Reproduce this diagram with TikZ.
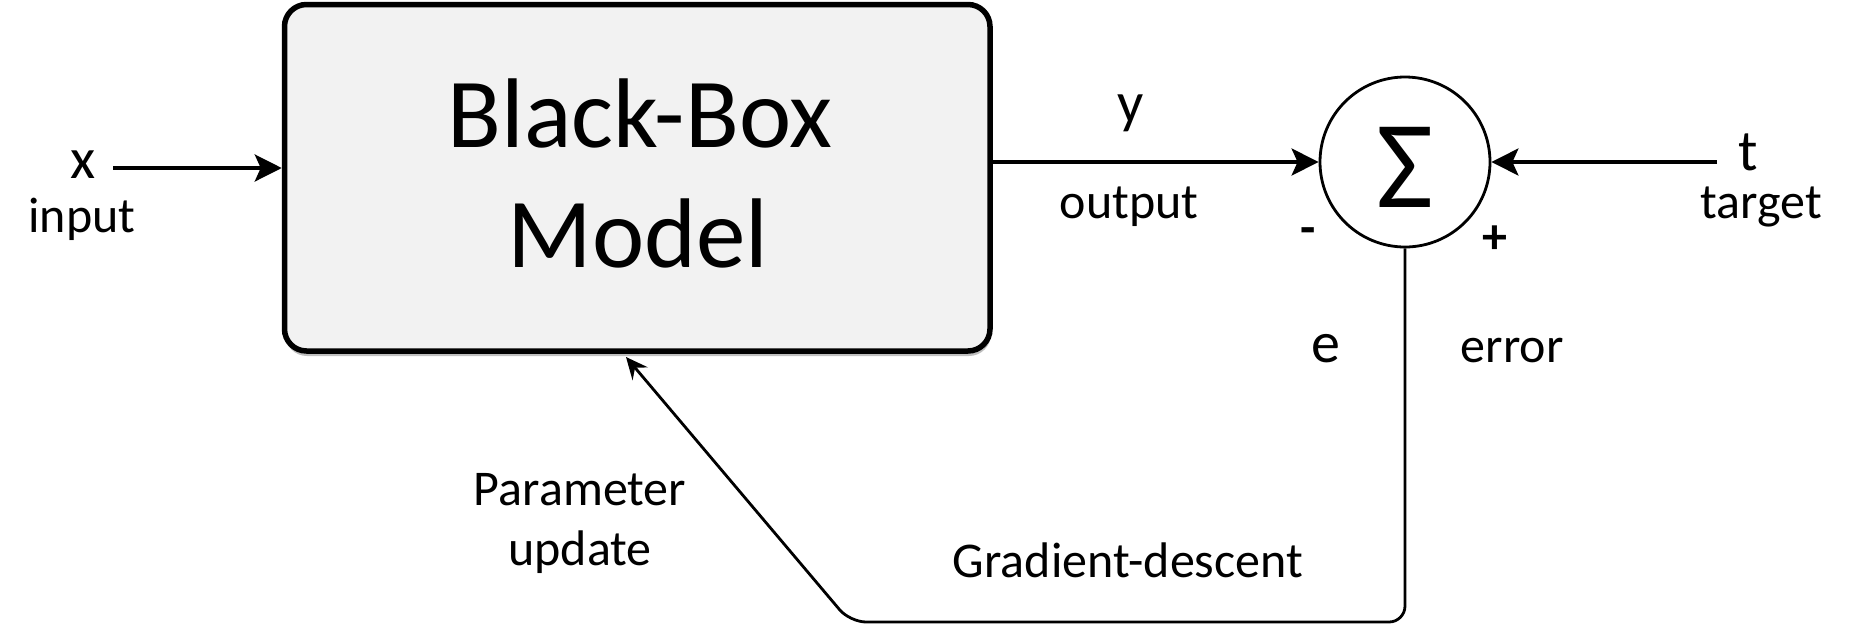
\documentclass[tikz,border=0pt]{standalone}
\usepackage{fontspec}
\setmainfont{Carlito}
\usetikzlibrary{arrows.meta}
\definecolor{boxgray}{HTML}{F2F2F2}
\begin{document}
\begin{tikzpicture}[x=1pt,y=-1pt,
  lbl/.style={anchor=base, inner sep=0pt, font=\fontsize{50}{60}\selectfont},
  var/.style={anchor=base, inner sep=0pt, font=\fontsize{58}{68}\selectfont},
  sign/.style={anchor=center, inner sep=0pt, font=\bfseries\fontsize{50}{60}\selectfont},
  bigarrow/.style={line width=3.5pt, -{Stealth[length=27pt,width=27pt,inset=6pt]}},
  fbline/.style={line width=2.8pt, rounded corners=16pt, -{Stealth[length=22pt,width=20pt,inset=8pt]}},
]
\useasboundingbox (0,0) rectangle (1850,625);
% shadow + box
\fill[black!25, rounded corners=22pt] (285,6) rectangle (991,356);
\node[draw, line width=5.5pt, fill=boxgray, rounded corners=22pt,
      minimum width=705.5pt, minimum height=346.5pt, inner sep=0pt] (box) at (637.25,177.75) {};
\node[anchor=base, inner sep=0pt, font=\fontsize{99}{120}\selectfont] (bbtxt) at (640,147) {Black-Box};
\node[anchor=base, inner sep=0pt, font=\fontsize{99}{120}\selectfont] (mtxt) at (638,267) {Model};
% summing junction
\node[circle, draw, line width=2.8pt, minimum size=170pt, inner sep=0pt] (sum) at (1405,162) {};
\node[anchor=base, inner sep=0pt, font=\fontsize{125}{125}\selectfont] (sig) at (1405,207) {Σ};
\node[sign] (minus) at (1308,236) {-};
\node[sign] (plus) at (1495,240) {+};
% input
\node[var] (x) at (83,178) {x};
\node[lbl] (input) at (82,232) {input};
\coordinate (xs) at (113,168);
\draw[bigarrow] (xs) -- (box.west |- xs);
% output
\node[var] (y) at (1131,122) {y};
\node[lbl] (output) at (1129,218) {output};
\draw[bigarrow] (box.east |- sum.west) -- (sum.west);
% target
\node[var] (t) at (1748,170) {t};
\node[lbl] (target) at (1761,218) {target};
\coordinate (ts) at (1717,162);
\draw[bigarrow] (ts) -- (sum.east);
% error
\node[var] (e) at (1326,362) {e};
\node[lbl] (error) at (1512,362) {error};
% feedback
\coordinate (corner) at (850,622);
\coordinate (pu) at (626,357);
\draw[fbline] (sum.south) -- (sum.south |- corner) -- (corner) -- (pu);
\node[lbl] (param) at (580,505) {Parameter};
\node[lbl] (upd) at (580,565) {update};
\node[lbl] (grad) at (1128,577) {Gradient-descent};
\end{tikzpicture}
\end{document}
